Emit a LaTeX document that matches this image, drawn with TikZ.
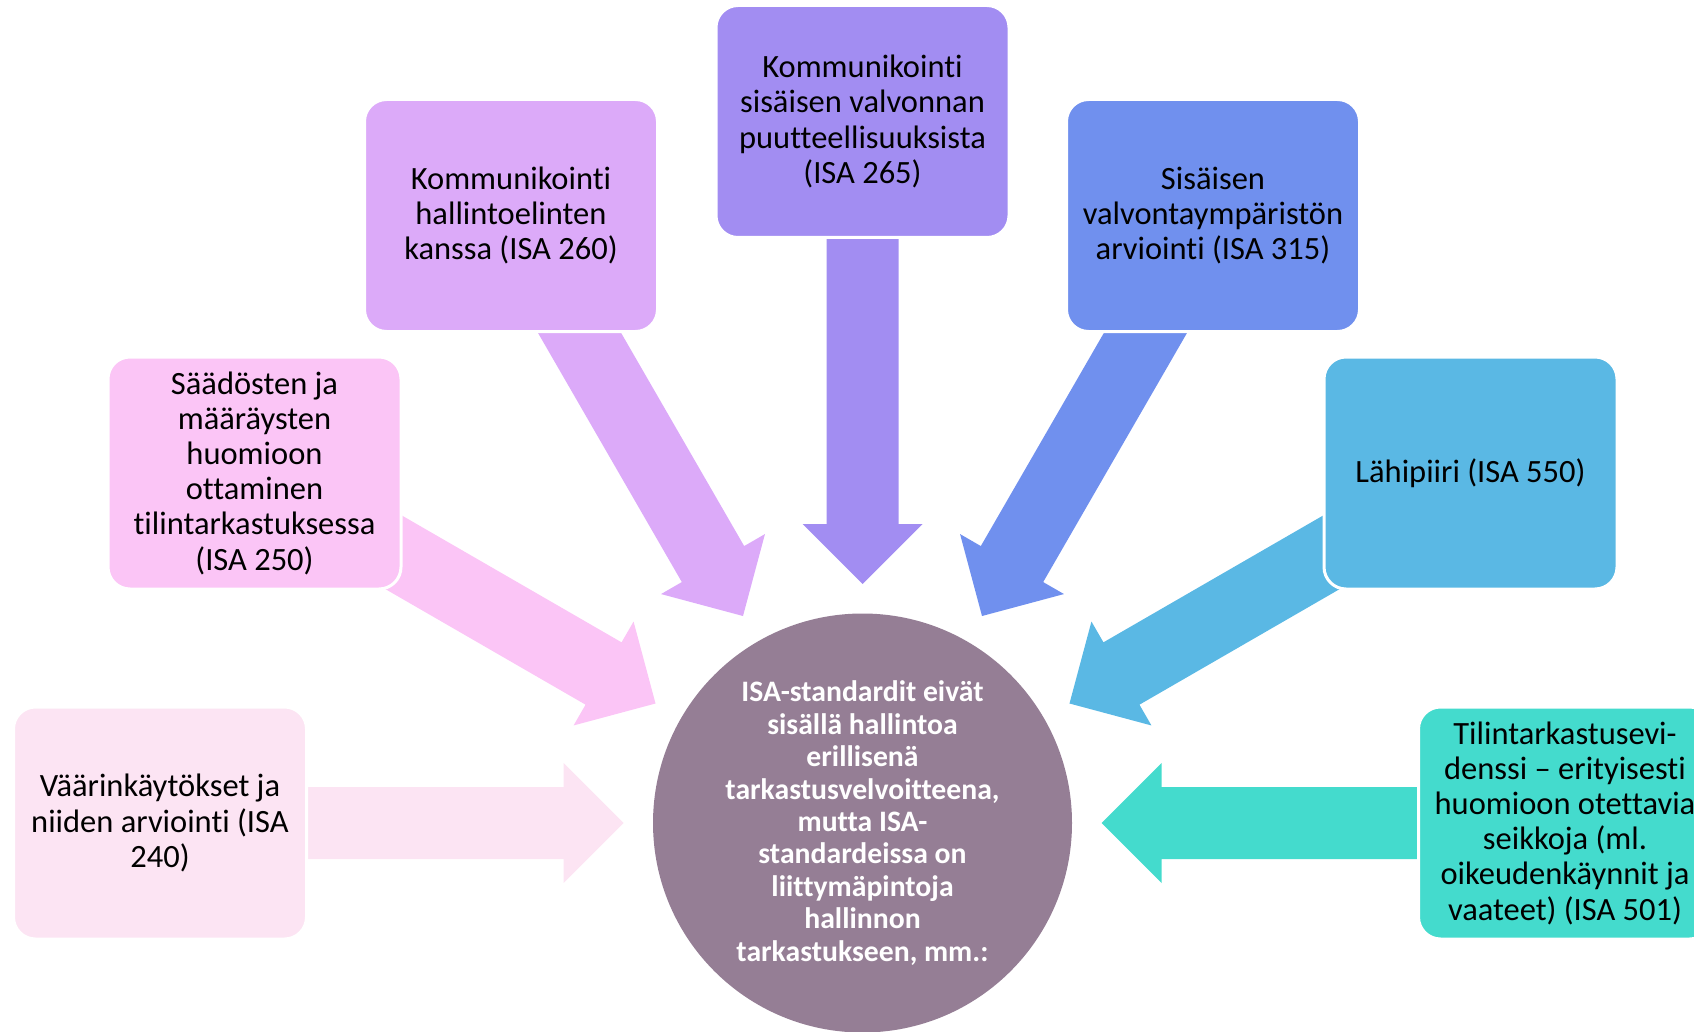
\documentclass[tikz,border=0pt]{standalone}
\usepackage{fontspec}
\setmainfont{Carlito}[Ligatures=NoCommon]
\definecolor{c240}{RGB}{252,228,243}
\definecolor{c250}{RGB}{251,197,246}
\definecolor{c260}{RGB}{220,170,249}
\definecolor{c265}{RGB}{162,141,242}
\definecolor{c315}{RGB}{112,144,238}
\definecolor{c550}{RGB}{90,184,228}
\definecolor{c501}{RGB}{68,219,205}
\definecolor{ccirc}{RGB}{149,126,149}
\tikzset{
  box/.style={rounded corners=22pt, draw=white, line width=3pt, minimum width=293pt, minimum height=232pt,
    align=center, inner sep=0pt, font=\fontsize{32.5}{35.2}\selectfont, text=black},
  hub/.style={circle, minimum size=419pt, fill=ccirc, inner sep=0pt, align=center,
    font=\fontsize{29.7}{32.4}\selectfont\bfseries, text=white},
}
\newcommand{\radarrow}[2]{%
  \begin{scope}[shift={(hub.center)}, rotate=#1]
    \fill[#2] (600,-36) -- (299,-36) -- (299,-60) -- (239,0) -- (299,60) -- (299,36) -- (600,36) -- cycle;
  \end{scope}}
\begin{document}
\begin{tikzpicture}[x=1pt,y=-1pt]
\useasboundingbox (0,0) rectangle (1694,1032);
\node[hub] (hub) at (862.5,823) {ISA-standardit eivät\\sisällä hallintoa\\erillisenä\\tarkastusvelvoitteena,\\mutta ISA-\\standardeissa on\\liittymäpintoja\\hallinnon\\tarkastukseen, mm.:};
\radarrow{180}{c240}
\radarrow{150}{c250}
\radarrow{120}{c260}
\radarrow{90}{c265}
\radarrow{60}{c315}
\radarrow{30}{c550}
\radarrow{0}{c501}
\node[box, fill=c240] (b240) at (160,823) {Väärinkäytökset ja\\niiden arviointi (ISA\\240)};
\node[box, fill=c250] (b250) at (254.5,473) {Säädösten ja\\määräysten\\huomioon\\ottaminen\\tilintarkastuksessa\\(ISA 250)};
\node[box, fill=c260] (b260) at (511,215.5) {Kommunikointi\\hallintoelinten\\kanssa (ISA 260)};
\node[box, fill=c265] (b265) at (862.5,121.5) {Kommunikointi\\sisäisen valvonnan\\puutteellisuuksista\\(ISA 265)};
\node[box, fill=c315] (b315) at (1213,215.5) {Sisäisen\\valvontaympäristön\\arviointi (ISA 315)};
\node[box, fill=c550] (b550) at (1470.5,473) {Lähipiiri (ISA 550)};
\node[box, fill=c501] (b501) at (1565,823) {Tilintarkastusevi-\\denssi – erityisesti\\huomioon otettavia\\seikkoja (ml.\\oikeudenkäynnit ja\\vaateet) (ISA 501)};
\end{tikzpicture}
\end{document}
